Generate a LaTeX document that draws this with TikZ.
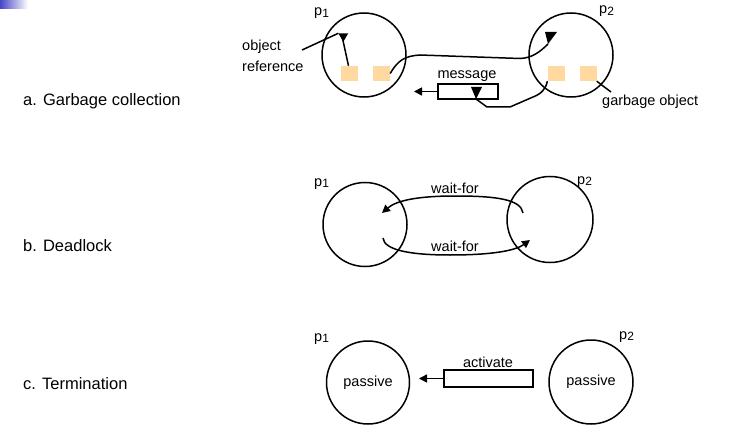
\documentclass[tikz,border=0pt]{standalone}
\usepackage{fontspec}
\setmainfont{Liberation Sans}
\usetikzlibrary{arrows.meta}
\definecolor{obj}{HTML}{FFD9A0}
\tikzset{
  every node/.style={font=\fontsize{14.5}{16}\selectfont, inner sep=0pt},
  proc/.style={circle, draw, line width=1.5pt, minimum size=84pt, inner sep=0pt},
  objbox/.style={fill=obj, minimum width=17pt, minimum height=15pt, inner sep=0pt},
  msgbox/.style={draw, line width=1.5pt, inner sep=0pt},
  conn/.style={line width=1.5pt},
  tip/.style={fill=black},
  arr/.style={line width=1.5pt, -{Triangle[length=8pt,width=8pt]}},
  plabel/.style={anchor=base west},
  caption/.style={anchor=base west, font=\fontsize{16.5}{18}\selectfont},
}
\newcommand{\pp}[1]{p\raisebox{-1.5pt}{\fontsize{12}{12}\selectfont #1}}
\begin{document}
\begin{tikzpicture}[x=1pt,y=-1pt]
\useasboundingbox (0,0) rectangle (737,436);
\shade[left color={rgb,255:red,70;green,70;blue,200}, right color=white] (0,0) rectangle (28,9);

% ---------- a. Garbage collection ----------
\node[caption] (capa) at (23,106) {a. Garbage collection};
\node[proc] (a1) at (364,55) {};
\node[proc] (a2) at (571,55) {};
\node[plabel] (a1l) at (314,16) {\pp{1}};
\node[plabel] (a2l) at (599,14) {\pp{2}};
\node[objbox] (o11) at (349.5,73.5) {};
\node[objbox] (o12) at (381.5,73.5) {};
\node[objbox] (o21) at (556,73.5) {};
\node[objbox] (o22) at (588,73.5) {};
\node[anchor=base west] (objref1) at (242,51) {object};
\node[anchor=base west] (objref2) at (242,72) {reference};
\node[anchor=base west] (garb) at (602,106) {garbage object};
\node[msgbox, minimum width=60pt, minimum height=15pt] (msg) at (468,91.5) {};
\node (msgl) at (467,76) {message};
\coordinate (t1) at (343.3,41.7);
\coordinate (t2) at (548,44);
\coordinate (t3) at (476,99);
\coordinate (refend) at (302,50);
\coordinate (msgto) at (414,91.5);
% triangles
\fill[tip] (338.3,33.3) -- (348.3,33.3) -- (t1) -- cycle;
\fill[tip] (545,32) -- (557,32) -- (t2) -- cycle;
\fill[tip] (471,87) -- (482,87) -- (t3) -- cycle;
% object reference pointer
\draw[conn] (refend) -- (338.3,33.3);
\draw[conn] (o11.north) ++(-1,0) -- (342,36);
% reference from p1 object to p2
\draw[conn] (o12.east) .. controls (398,60) and (405,56) .. (420,55) -- (520,58.5) .. controls (532,58) and (540,52) .. (t2);
% reference from p2 object to message
\draw[conn] (o21.south west) .. controls (546,89) and (541,94) .. (533,97) -- (510,107) -- (487,107) -- (t3);
\draw[arr] (msg.west) -- (msgto);
% garbage pointer
\draw[conn] (o22.south east) -- (611,92);

% ---------- b. Deadlock ----------
\node[caption] (capb) at (23,251) {b. Deadlock};
\node[proc] (b1) at (365,224.5) {};
\node[proc, minimum size=86pt] (b2) at (550,219.5) {};
\node[plabel] (b1l) at (314,186) {\pp{1}};
\node[plabel] (b2l) at (577,184) {\pp{2}};
\coordinate (bs1) at (523,213);
\coordinate (be1) at (382,213);
\coordinate (bs2) at (383,238);
\coordinate (be2) at (530,240);
\draw[arr] (bs1) .. controls (521,199) and (495,196) .. (455,196) .. controls (420,196) and (397,200) .. (be1);
\draw[arr] (bs2) .. controls (384,250) and (410,255) .. (450,255) .. controls (490,255) and (515,251) .. (be2);
\node (bw1) at (455,188) {wait-for};
\node (bw2) at (455,246) {wait-for};

% ---------- c. Termination ----------
\node[caption] (capc) at (23,389) {c. Termination};
\node[proc, minimum size=83pt] (c1) at (368,382.5) {passive};
\node[proc] (c2) at (591,382) {passive};
\node[plabel] (c1l) at (314,341) {\pp{1}};
\node[plabel] (c2l) at (619,339) {\pp{2}};
\node[msgbox, minimum width=89pt, minimum height=17pt] (act) at (488.5,378.5) {};
\node (actl) at (488,362) {activate};
\coordinate (actto) at (419,378.5);
\draw[arr] (act.west) -- (actto);
\end{tikzpicture}
\end{document}
